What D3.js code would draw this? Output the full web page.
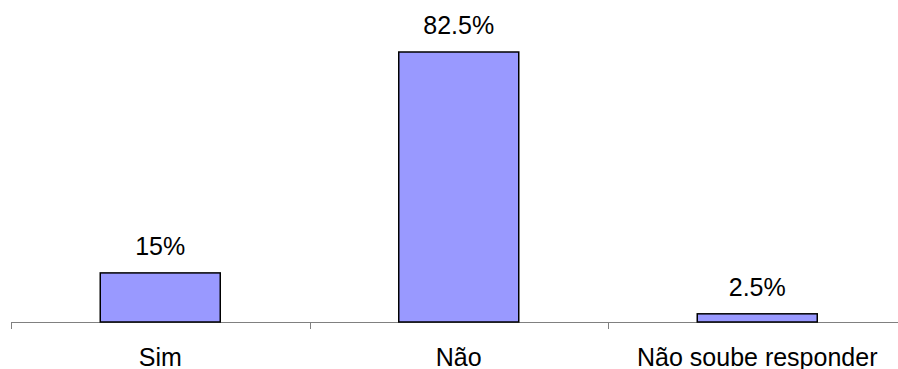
<!DOCTYPE html>
<html><head><meta charset="utf-8">
<script src="https://cdn.jsdelivr.net/npm/d3@7"></script>
<style>body{margin:0;background:#fff}svg{display:block}text{font-family:"Liberation Sans",Arial,sans-serif;fill:#000}</style>
</head><body><svg id="c" width="898" height="369"></svg>
<script>
const categories = ["Sim", "Não", "Não soube responder"];
const values = [15, 82.5, 2.5];
const valueLabels = ["15%", "82.5%", "2.5%"];

const svg = d3.select("#c");
const baseY = 322;
const x = d3.scaleBand().domain(categories).range([11, 906.5]).paddingInner(0).paddingOuter(0);
const y = d3.scaleLinear().domain([0, 82.5]).range([baseY, 52]);
const barW = 120;

// axis
const axis = d3.axisBottom(x).tickSize(0).tickFormat("");
const gx = svg.append("g").attr("transform", `translate(0,${baseY})`).call(axis);
gx.select(".domain").remove();
svg.append("line").attr("x1", x.range()[0]).attr("x2", 898).attr("y1", baseY+0.5).attr("y2", baseY+0.5)
  .attr("stroke", "#808080").attr("stroke-width", 1);
const tickPos = categories.map(c => x(c)).concat([x.range()[1]]);
svg.selectAll(".tk").data(tickPos).enter().append("line")
  .attr("x1", d => Math.round(d)+0.5).attr("x2", d => Math.round(d)+0.5)
  .attr("y1", baseY).attr("y2", baseY+7).attr("stroke", "#808080");

// bars
svg.selectAll(".bar").data(values).enter().append("rect")
  .attr("x", (d,i) => x(categories[i]) + x.bandwidth()/2 - barW/2)
  .attr("y", d => y(d))
  .attr("width", barW)
  .attr("height", d => baseY - y(d))
  .attr("fill", "#9999FF").attr("stroke", "#000").attr("stroke-width", 1.5);

// value labels
svg.selectAll(".vl").data(values).enter().append("text")
  .attr("x", (d,i) => x(categories[i]) + x.bandwidth()/2)
  .attr("y", d => y(d) - 18)
  .attr("text-anchor", "middle").attr("font-size", 25)
  .text((d,i) => valueLabels[i]);

// category labels
svg.selectAll(".cl").data(categories).enter().append("text")
  .attr("x", d => x(d) + x.bandwidth()/2)
  .attr("y", 365.5)
  .attr("text-anchor", "middle").attr("font-size", 25)
  .text(d => d);
</script></body></html>
